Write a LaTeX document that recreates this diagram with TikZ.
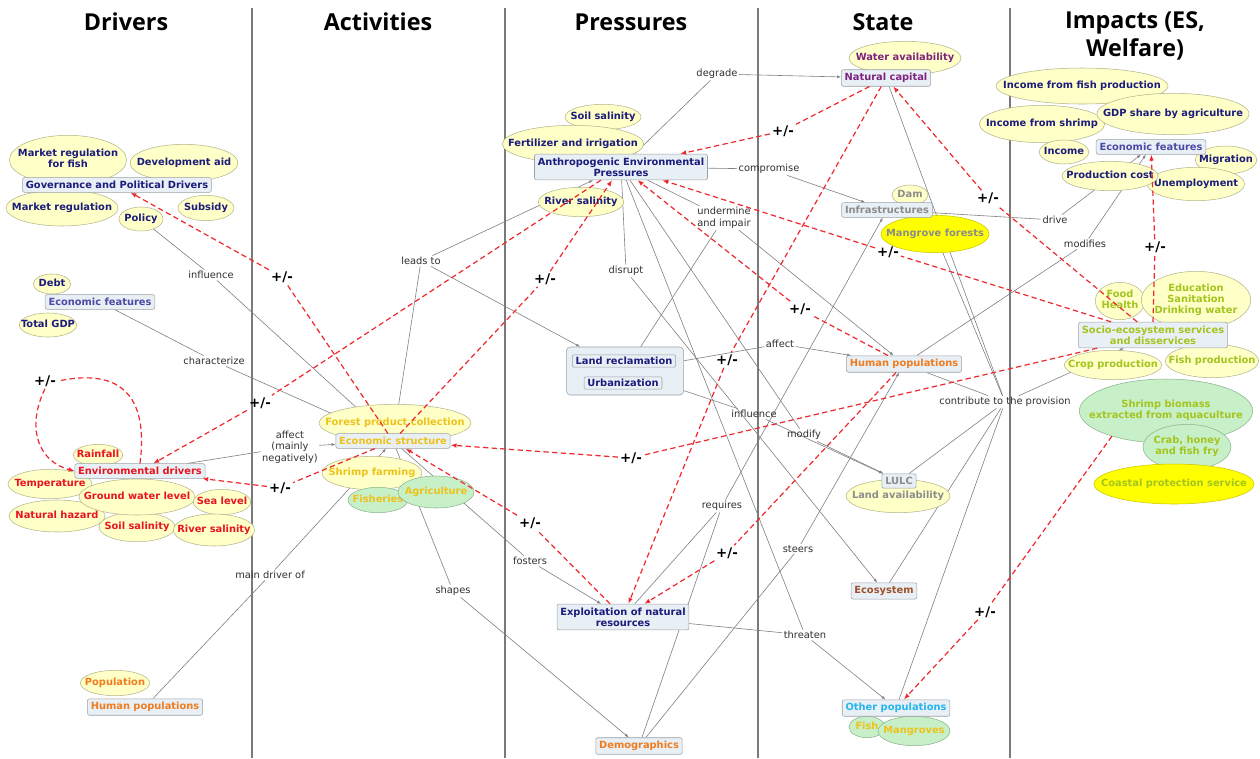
\documentclass[tikz,border=0pt]{standalone}
\usepackage{fontspec}
\newfontfamily\dvsans{DejaVu Sans}
\newfontfamily\hdsans{Open Sans}
\usetikzlibrary{arrows.meta, shapes.geometric, backgrounds}

\definecolor{cNavy}{HTML}{1C1C7C}
\definecolor{cNavyL}{HTML}{4B4BA6}
\definecolor{cRed}{HTML}{E8141E}
\definecolor{cOrange}{HTML}{F07C1E}
\definecolor{cGold}{HTML}{EEC21A}
\definecolor{cPurple}{HTML}{7E227E}
\definecolor{cGray}{HTML}{8C8C8C}
\definecolor{cBrown}{HTML}{A0522D}
\definecolor{cCyan}{HTML}{25B5F0}
\definecolor{cLime}{HTML}{A4C41E}
\definecolor{ellfill}{HTML}{FFFFC8}
\definecolor{ellline}{HTML}{B4B48C}
\definecolor{greenfill}{HTML}{C8F0C8}
\definecolor{greenline}{HTML}{8CB48C}
\definecolor{brightfill}{HTML}{FFFF00}
\definecolor{brightline}{HTML}{C8C800}
\definecolor{boxfill}{HTML}{E8EFF5}
\definecolor{boxline}{HTML}{9AA0A6}
\definecolor{relgray}{HTML}{808080}
\definecolor{sepgray}{HTML}{7A7A7A}
\definecolor{lnktext}{HTML}{303030}
\definecolor{redline}{HTML}{F0282D}

\newcommand\cptfont{\dvsans\bfseries\fontsize{7.4}{8.4}\selectfont}
\newcommand\lnkfont{\dvsans\fontsize{7.4}{8.6}\selectfont}
\newcommand\pmfont{\dvsans\bfseries\fontsize{10}{11}\selectfont}
\newcommand\hdfont{\hdsans\bfseries\fontsize{17.5}{21}\selectfont}
\newcommand\ztxt[1]{\makebox[0pt]{\begin{tabular}{@{}c@{}}#1\end{tabular}}}

\begin{document}
\begin{tikzpicture}[
        x=0.75pt, y=-0.75pt, % one unit = one pixel of the screen shot
        concept/.style={rectangle, rounded corners=1.5pt, draw=boxline, fill=boxfill, inner xsep=2.5pt, inner ysep=2.6pt, font=\cptfont, align=center},
        ell/.style={ellipse, draw=ellline, fill=ellfill, inner sep=0pt, font=\cptfont},
        ellg/.style={ell, draw=greenline, fill=greenfill},
        elly/.style={ell, draw=brightline, fill=brightfill},
        lnk/.style={font=\lnkfont, text=lnktext, align=center, inner sep=1pt},
        pm/.style={font=\pmfont, inner sep=1.5pt},
        rel/.style={draw=relgray, line width=0.45pt},
        relarr/.style={rel, -{Latex[length=3pt,width=2.2pt]}},
        inflseg/.style={draw=redline, line width=0.9pt, dash pattern=on 4pt off 2.5pt},
        infl/.style={inflseg, -{Latex[length=4.5pt,width=3.5pt]}},
        colsep/.style={draw=sepgray, line width=2.2pt},
        header/.style={font=\hdfont, align=center}
    ]

    \useasboundingbox (0,0) rectangle (1260,758);
    \begin{scope}[on background layer]
        \fill[white] (0,0) rectangle (1260,758);
        \foreach \x in {252,505,758,1010} { \draw[colsep] (\x,8) -- (\x,758); }
    \end{scope}

    % Column headers
    \node[header] (hDrv) at (126,22) {Drivers};
    \node[header] (hAct) at (378,22) {Activities};
    \node[header] (hPre) at (631,22) {Pressures};
    \node[header] (hSta) at (883,22) {State};
    \node[header] (hImp) at (1135,36) {Impacts (ES,\\Welfare)};

    % Drivers
    \node[ell, text=cNavy, minimum width=88pt, minimum height=37pt] (mrfish) at (68,160) {\ztxt{Market regulation\\for fish}};
    \node[ell, text=cNavy, minimum width=81pt, minimum height=28pt] (devaid) at (184,163) {\ztxt{Development aid}};
    \node[ell, text=cNavy, minimum width=84pt, minimum height=27pt] (mreg) at (62,208) {\ztxt{Market regulation}};
    \node[ell, text=cNavy, minimum width=42pt, minimum height=19pt] (subsidy) at (206,208) {\ztxt{Subsidy}};
    \node[ell, text=cNavy, minimum width=33pt, minimum height=18pt] (policy) at (141,219) {\ztxt{Policy}};
    \node[concept, text=cNavy] (gov) at (117,185) {Governance and Political Drivers};

    \node[ell, text=cNavy, minimum width=28pt, minimum height=15pt] (debt) at (52,284) {\ztxt{Debt}};
    \node[ell, text=cNavy, minimum width=43pt, minimum height=18pt] (gdp) at (48,325) {\ztxt{Total GDP}};
    \node[concept, text=cNavyL] (econD) at (100,302) {Economic features};

    \node[ell, text=cRed, minimum width=37pt, minimum height=16pt] (rainfall) at (98,455) {\ztxt{Rainfall}};
    \node[ell, text=cRed, minimum width=63pt, minimum height=22pt] (temp) at (50,484) {\ztxt{Temperature}};
    \node[ell, text=cRed, minimum width=72pt, minimum height=24pt] (nathaz) at (57,516) {\ztxt{Natural hazard}};
    \node[ell, text=cRed, minimum width=57pt, minimum height=22pt] (soilD) at (137,527) {\ztxt{Soil salinity}};
    \node[ell, text=cRed, minimum width=87pt, minimum height=27pt] (gwl) at (137,497) {\ztxt{Ground water level}};
    \node[ell, text=cRed, minimum width=43pt, minimum height=19pt] (sealvl) at (222,502) {\ztxt{Sea level}};
    \node[ell, text=cRed, minimum width=61pt, minimum height=24pt] (riverD) at (214,530) {\ztxt{River salinity}};
    \node[concept, text=cRed] (envdr) at (140,471) {Environmental drivers};

    \node[ell, text=cOrange, minimum width=52pt, minimum height=19pt] (popul) at (115,683) {\ztxt{Population}};
    \node[concept, text=cOrange] (humD) at (145,707) {Human populations};

    % Activities
    \node[ell, text=cGold, minimum width=114pt, minimum height=28pt] (forest) at (395,423) {\ztxt{Forest product collection}};
    \node[ell, text=cGold, minimum width=75pt, minimum height=25pt] (shrimpf) at (372,473) {\ztxt{Shrimp farming}};
    \node[ellg, text=cGold, minimum width=45pt, minimum height=19pt] (fisheries) at (378,500) {\ztxt{Fisheries}};
    \node[ellg, text=cGold, minimum width=57pt, minimum height=24pt] (agri) at (436,492) {\ztxt{Agriculture}};
    \node[concept, text=cGold] (econA) at (393,441) {Economic structure};

    % Pressures
    \node[ell, text=cNavy, minimum width=57pt, minimum height=19pt] (soilP) at (603,117) {\ztxt{Soil salinity}};
    \node[ell, text=cNavy, minimum width=106pt, minimum height=28pt] (fert) at (573,144) {\ztxt{Fertilizer and irrigation}};
    \node[ell, text=cNavy, minimum width=64pt, minimum height=22pt] (riverP) at (581,202) {\ztxt{River salinity}};
    \node[concept, text=cNavy] (anth) at (621,167) {Anthropogenic Environmental\\Pressures};

    \node[concept, minimum width=88pt, minimum height=36pt, rounded corners=3pt] (lrgroup) at (625,371) {};
    \node[concept, text=cNavy, inner ysep=1.8pt] (landrec) at (624,361) {Land reclamation};
    \node[concept, text=cNavy, inner ysep=1.8pt] (urban) at (623,383) {Urbanization};

    \node[concept, text=cNavy] (exploit) at (623,617) {Exploitation of natural\\resources};
    \node[concept, text=cOrange] (demog) at (639,746) {Demographics};

    % State
    \node[ell, text=cPurple, minimum width=84pt, minimum height=25pt] (water) at (905,58) {\ztxt{Water availability}};
    \node[concept, text=cPurple] (natcap) at (886,78) {Natural capital};
    \node[ell, text=cGray, minimum width=27pt, minimum height=15pt] (dam) at (910,195) {\ztxt{Dam}};
    \node[elly, text=cGray, minimum width=81pt, minimum height=28pt] (mangf) at (935,234) {\ztxt{Mangrove forests}};
    \node[concept, text=cGray] (infra) at (887,210) {Infrastructures};
    \node[concept, text=cOrange] (humS) at (904,364) {Human populations};
    \node[ell, text=cGray, minimum width=78pt, minimum height=25pt] (landav) at (898,496) {\ztxt{Land availability}};
    \node[concept, text=cGray] (lulc) at (899,481) {LULC};
    \node[concept, text=cBrown] (ecosys) at (884,591) {Ecosystem};
    \node[ellg, text=cGold, minimum width=27pt, minimum height=16pt] (fish) at (867,727) {\ztxt{Fish}};
    \node[ellg, text=cGold, minimum width=54pt, minimum height=22pt] (mangroves) at (914,731) {\ztxt{Mangroves}};
    \node[concept, text=cCyan] (otherp) at (896,708) {Other populations};

    % Impacts
    \node[ell, text=cNavy, minimum width=129pt, minimum height=27pt] (incfish) at (1082,86) {\ztxt{Income from fish production}};
    \node[ell, text=cNavy, minimum width=94pt, minimum height=28pt] (incshr) at (1042,124) {\ztxt{Income from shrimp}};
    \node[ell, text=cNavy, minimum width=114pt, minimum height=31pt] (gdpag) at (1173,114) {\ztxt{GDP share by agriculture}};
    \node[ell, text=cNavy, minimum width=37pt, minimum height=18pt] (income) at (1064,152) {\ztxt{Income}};
    \node[ell, text=cNavy, minimum width=46pt, minimum height=21pt] (migr) at (1226,160) {\ztxt{Migration}};
    \node[ell, text=cNavy, minimum width=73pt, minimum height=25pt] (unemp) at (1196,184) {\ztxt{Unemployment}};
    \node[ell, text=cNavy, minimum width=72pt, minimum height=22pt] (prodc) at (1110,176) {\ztxt{Production cost}};
    \node[concept, text=cNavyL] (econI) at (1151,147) {Economic features};

    \node[ell, text=cLime, minimum width=37pt, minimum height=28pt] (foodh) at (1120,301) {\ztxt{Food\\Health}};
    \node[ell, text=cLime, minimum width=82pt, minimum height=43pt] (edu) at (1196,300) {\ztxt{Education\\Sanitation\\Drinking water}};
    \node[ell, text=cLime, minimum width=73pt, minimum height=22pt] (cropp) at (1113,365) {\ztxt{Crop production}};
    \node[ell, text=cLime, minimum width=70pt, minimum height=25pt] (fishp) at (1212,361) {\ztxt{Fish production}};
    \node[concept, text=cLime] (socio) at (1153,335) {Socio-ecosystem services\\and disservices};
    \node[ellg, text=cLime, minimum width=130pt, minimum height=48pt] (shrimpb) at (1166,411) {\ztxt{Shrimp biomass\\extracted from aquaculture}};
    \node[ellg, text=cLime, minimum width=66pt, minimum height=34pt] (crab) at (1187,447) {\ztxt{Crab, honey\\and fish fry}};
    \node[elly, text=cLime, minimum width=120pt, minimum height=30pt] (coastal) at (1174,484) {\ztxt{Coastal protection service}};

    % Linking phrases
    \node[lnk] (lInfl1) at (211,275) {influence};
    \node[lnk] (lChar) at (214,361) {characterize};
    \node[lnk] (lAff) at (290,447) {affect\\(mainly\\negatively)};
    \node[lnk] (lMain) at (270,575) {main driver of};
    \node[lnk] (lLeads) at (421,261) {leads to};
    \node[lnk] (lFost) at (530,561) {fosters};
    \node[lnk] (lShap) at (453,591) {shapes};
    \node[lnk] (lDegr) at (717,74) {degrade};
    \node[lnk] (lComp) at (769,169) {compromise};
    \node[lnk] (lUnd) at (724,218) {undermine\\and impair};
    \node[lnk] (lDisr) at (626,271) {disrupt};
    \node[lnk] (lAff2) at (780,344) {affect};
    \node[lnk] (lInfl2) at (754,414) {influence};
    \node[lnk] (lMod) at (804,435) {modify};
    \node[lnk] (lReq) at (722,506) {requires};
    \node[lnk] (lSteer) at (798,549) {steers};
    \node[lnk] (lThr) at (805,635) {threaten};
    \node[lnk] (lContr) at (1005,402) {contribute to the provision};
    \node[lnk] (lDrive) at (1055,220) {drive};
    \node[lnk] (lModf) at (1085,244) {modifies};

    % +/- influences
    \node[pm] (pm1) at (282,277) {+/-};
    \node[pm] (pm2) at (45,381) {+/-};
    \node[pm] (pm3) at (260,403) {+/-};
    \node[pm] (pm4) at (280,488) {+/-};
    \node[pm] (pm5) at (545,279) {+/-};
    \node[pm] (pm6) at (783,131) {+/-};
    \node[pm] (pm7) at (727,360) {+/-};
    \node[pm] (pm8) at (1155,247) {+/-};
    \node[pm] (pm9) at (988,198) {+/-};
    \node[pm] (pm10) at (888,252) {+/-};
    \node[pm] (pm11) at (800,309) {+/-};
    \node[pm] (pm12) at (631,458) {+/-};
    \node[pm] (pm13) at (727,553) {+/-};
    \node[pm] (pm14) at (530,523) {+/-};
    \node[pm] (pm15) at (985,612) {+/-};

    % Relations (under the concepts)
    \begin{scope}[on background layer]
        \draw[rel] (policy) -- (lInfl1);  \draw[relarr] (lInfl1) -- (econA);
        \draw[rel] (econD) -- (lChar);    \draw[relarr] (lChar) -- (econA);
        \draw[rel] (envdr) -- (lAff);     \draw[relarr] (lAff) -- (econA);
        \draw[rel] (humD) -- (lMain);     \draw[relarr] (lMain) -- (econA);
        \draw[rel] (econA) -- (lLeads);   \draw[relarr] (lLeads) -- (anth);
        \draw[relarr] (lLeads) -- (lrgroup);
        \draw[rel] (econA) -- (lFost);    \draw[relarr] (lFost) -- (exploit);
        \draw[rel] (econA) -- (lShap);    \draw[relarr] (lShap) -- (demog);

        \draw[rel] (anth) -- (lDegr);     \draw[relarr] (lDegr) -- (natcap);
        \draw[rel] (anth) -- (lComp);     \draw[relarr] (lComp) -- (infra);
        \draw[rel] (anth) -- (lUnd);      \draw[relarr] (lUnd) -- (humS);
        \draw[rel] (anth) -- (lDisr);     \draw[relarr] (lDisr) -- (ecosys);
        \draw[rel] (anth) -- (lMod);      \draw[relarr] (lMod) -- (lulc);
        \draw[rel] (anth) -- (lThr);
        \draw[rel] (lrgroup) -- (lAff2);  \draw[relarr] (lAff2) -- (humS);
        \draw[rel] (lrgroup) -- (lInfl2); \draw[relarr] (lInfl2) -- (lulc);
        \draw[rel] (lrgroup) -- (lUnd);
        \draw[rel] (exploit) -- (lReq);   \draw[rel] (demog) -- (lReq);
        \draw[relarr] (lReq) -- (infra);
        \draw[rel] (demog) -- (lSteer);   \draw[relarr] (lSteer) -- (humS);
        \draw[rel] (exploit) -- (lThr);   \draw[relarr] (lThr) -- (otherp);

        \foreach \s in {natcap, mangf, humS, lulc, ecosys, otherp} { \draw[rel] (\s) -- (lContr); }
        \draw[relarr] (lContr) -- (socio);
        \draw[rel] (infra) -- (lDrive);   \draw[relarr] (lDrive) -- (econI);
        \draw[rel] (humS) -- (lModf);     \draw[relarr] (lModf) -- (econI);
    \end{scope}

    % Influences +/- (dashed, on top)
    \draw[inflseg] (econA) -- (pm1);    \draw[infl] (pm1) -- (gov);
    \draw[inflseg] (envdr.north) .. controls (150,385) and (110,370) .. (pm2.east);
    \draw[infl] (pm2.south) .. controls (25,430) and (40,462) .. (envdr.west);
    \draw[inflseg] (anth) -- (pm3);     \draw[infl] (pm3) -- (envdr);
    \draw[inflseg] (econA) -- (pm4);    \draw[infl] (pm4) -- (envdr);
    \draw[inflseg] (econA) -- (pm5);    \draw[infl] (pm5) -- (anth);
    \draw[inflseg] (natcap) -- (pm6);   \draw[infl] (pm6) -- (anth);
    \draw[inflseg] (natcap) -- (pm7);   \draw[infl] (pm7) -- (exploit);
    \draw[inflseg] (socio.north) -- (pm8); \draw[infl] (pm8) -- (econI);
    \draw[inflseg] (socio) -- (pm9);    \draw[infl] (pm9) -- (natcap);
    \draw[inflseg] (socio) -- (pm10);   \draw[infl] (pm10) -- (anth);
    \draw[inflseg] (humS) -- (pm11);    \draw[infl] (pm11) -- (anth);
    \draw[inflseg] (socio) -- (pm12);   \draw[infl] (pm12) -- (econA);
    \draw[inflseg] (humS) -- (pm13);    \draw[infl] (pm13) -- (exploit);
    \draw[inflseg] (exploit) -- (pm14); \draw[infl] (pm14) -- (econA);
    \draw[inflseg] (shrimpb.205) -- (pm15); \draw[infl] (pm15) -- (otherp);

\end{tikzpicture}
\end{document}
